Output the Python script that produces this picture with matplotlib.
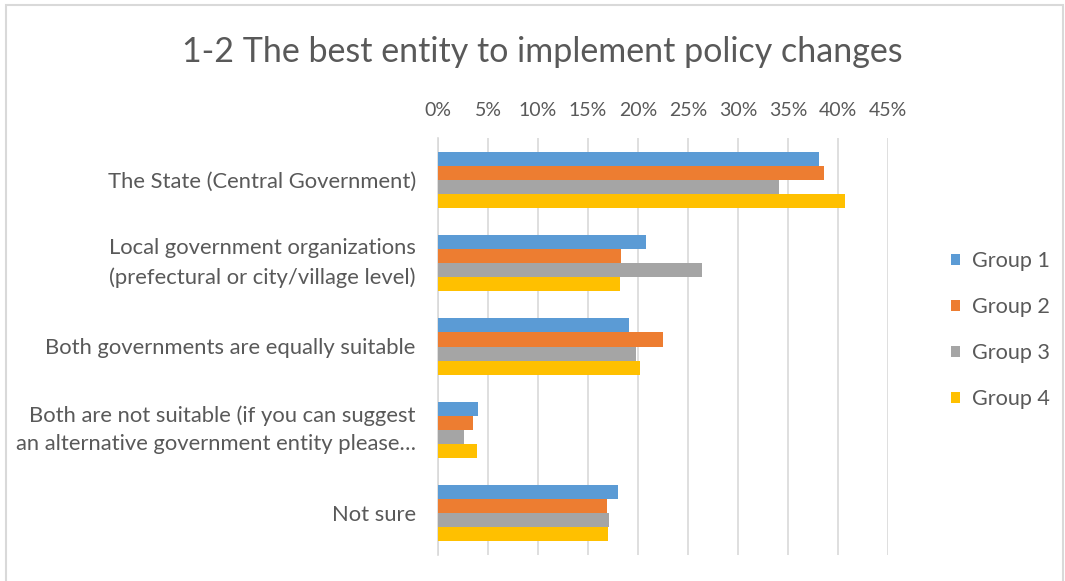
import matplotlib
matplotlib.use("Agg")
import matplotlib.pyplot as plt
from matplotlib.patches import Rectangle
import numpy as np

categories = [
    "The State (Central Government)",
    "Local government organizations\n(prefectural or city/village level)",
    "Both governments are equally suitable",
    "Both are not suitable (if you can suggest\nan alternative government entity please\u2026",
    "Not sure",
]
series_names = ["Group 1", "Group 2", "Group 3", "Group 4"]
group1 = [0.381, 0.208, 0.191, 0.040, 0.180]
group2 = [0.386, 0.183, 0.225, 0.035, 0.169]
group3 = [0.341, 0.264, 0.198, 0.026, 0.171]
group4 = [0.407, 0.182, 0.202, 0.039, 0.170]
tick_values = [0, 0.05, 0.10, 0.15, 0.20, 0.25, 0.30, 0.35, 0.40, 0.45]
tick_labels = ["0%", "5%", "10%", "15%", "20%", "25%", "30%", "35%", "40%", "45%"]

colors = ["#5B9BD5", "#ED7D31", "#A5A5A5", "#FFC000"]
FONT = "Lato"
TXT = "#595959"

W, H = 1065, 581
fig = plt.figure(figsize=(W / 100, H / 100), dpi=100)
fig.patch.set_facecolor("white")

# chart border
fig.patches.append(Rectangle((6 / W, -0.02), (1063 - 6) / W, 1.02 - 5 / H,
                             transform=fig.transFigure, fill=False,
                             edgecolor="#D9D9D9", linewidth=1.5))

ax = fig.add_axes([438 / W, 1 - 555 / H, (888 - 438) / W, (555 - 138) / H])
y = np.arange(len(categories))
h = 0.168
for i, (vals, c, name) in enumerate(zip([group1, group2, group3, group4], colors, series_names)):
    ax.barh(y + (i - 1.5) * h, vals, height=h, color=c, label=name, zorder=3)

ax.set_xlim(0, 0.45)
ax.set_ylim(len(categories) - 0.5, -0.5)
ax.xaxis.tick_top()
ax.set_xticks(tick_values)
ax.set_xticklabels(tick_labels)
ax.set_yticks(y)
ax.set_yticklabels(categories, linespacing=1.52)
ax.tick_params(axis="both", length=0, colors=TXT)
ax.tick_params(axis="x", pad=14, labelsize=14)
ax.tick_params(axis="y", pad=16, labelsize=15.8)
for lab in ax.get_xticklabels() + ax.get_yticklabels():
    lab.set_fontfamily(FONT)
for lab in ax.get_yticklabels():
    if "\n" in lab.get_text():
        lab.set_verticalalignment("center")
ax.grid(axis="x", color="#D9D9D9", linewidth=1.2, zorder=0)
for s in ["top", "right", "bottom"]:
    ax.spines[s].set_visible(False)
ax.spines["left"].set_color("#D9D9D9")
ax.spines["left"].set_linewidth(1.2)

fig.text(542 / W, 1 - 52 / H, "1-2 The best entity to implement policy changes",
         ha="center", va="center", fontsize=24.5, color=TXT, family=FONT)

leg = fig.legend(loc="center left", bbox_to_anchor=(951 / W, 1 - 330 / H),
                 frameon=False, prop={"family": FONT, "size": 15.6},
                 labelcolor=TXT, handlelength=0.43, handleheight=0.43,
                 handletextpad=0.56, labelspacing=1.2,
                 borderpad=0, borderaxespad=0)

fig.savefig("out.png", dpi=100)
